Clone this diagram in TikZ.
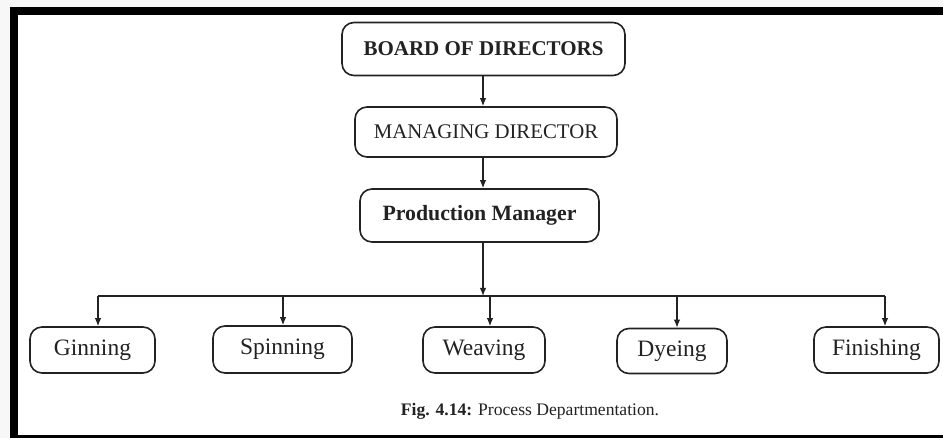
\documentclass[tikz,border=0pt]{standalone}
\usepackage{fontspec}
\setmainfont{Liberation Serif}
\usetikzlibrary{arrows.meta}
\definecolor{ink}{HTML}{222222}
\tikzset{
  box/.style={draw=ink, line width=1.6pt, rounded corners=12pt, inner sep=0pt, text=ink, align=center},
  conn/.style={draw=ink, line width=1.3pt},
  arr/.style={conn, -{Latex[length=8pt,width=6.5pt]}},
}
\begin{document}
\begin{tikzpicture}[x=1pt,y=-1pt]
\useasboundingbox (0,0) rectangle (943,438);
\fill[gray!6] (0,0) rectangle (943,438);
\fill[black] (10,7) rectangle (943,438);
\fill[white] (18,15) rectangle (943,435);

\node[box, minimum width=283pt, minimum height=53pt, font=\fontsize{21}{24}\selectfont\bfseries] (board) at (483.5,49) {BOARD OF DIRECTORS};
\node[box, minimum width=262pt, minimum height=50pt, font=\fontsize{20.8}{24}\selectfont] (md) at (486,132) {MANAGING DIRECTOR};
\node[box, minimum width=239pt, minimum height=53pt, font=\fontsize{21.8}{24}\selectfont\bfseries] (pm) at (479.5,215.5) {Production Manager};

\node[box, minimum width=125pt, minimum height=46pt, font=\fontsize{23.5}{26}\selectfont] (gin) at (92.5,350) {Ginning};
\node[box, minimum width=139pt, minimum height=47pt, font=\fontsize{23.5}{26}\selectfont] (spin) at (282.5,349.5) {Spinning};
\node[box, minimum width=122pt, minimum height=46pt, font=\fontsize{23.5}{26}\selectfont] (weave) at (484,350) {Weaving};
\node[box, minimum width=110pt, minimum height=45pt, font=\fontsize{23.5}{26}\selectfont] (dye) at (672,351) {Dyeing};
\node[box, minimum width=125pt, minimum height=46pt, font=\fontsize{23.5}{26}\selectfont] (fin) at (876.5,350) {Finishing};

\node[text=ink, font=\fontsize{17.6}{20}\selectfont, anchor=base] (cap) at (530,416) {\textbf{Fig. 4.14:} Process Departmentation.};

\coordinate (top) at (483,0);
\coordinate (bar) at (483,296);
\coordinate (b1) at (98,296);
\coordinate (b2) at (283,296);
\coordinate (b3) at (490,296);
\coordinate (b4) at (677,296);
\coordinate (b5) at (885,296);

\draw[arr] (top |- board.south) -- (top |- md.north);
\draw[arr] (top |- md.south) -- (top |- pm.north);
\draw[arr] (top |- pm.south) -- (bar);
\draw[conn] (b1) -- (b5);
\draw[arr] (b1) -- (b1 |- gin.north);
\draw[arr] (b2) -- (b2 |- spin.north);
\draw[arr] (b3) -- (b3 |- weave.north);
\draw[arr] (b4) -- (b4 |- dye.north);
\draw[arr] (b5) -- (b5 |- fin.north);
\end{tikzpicture}
\end{document}
